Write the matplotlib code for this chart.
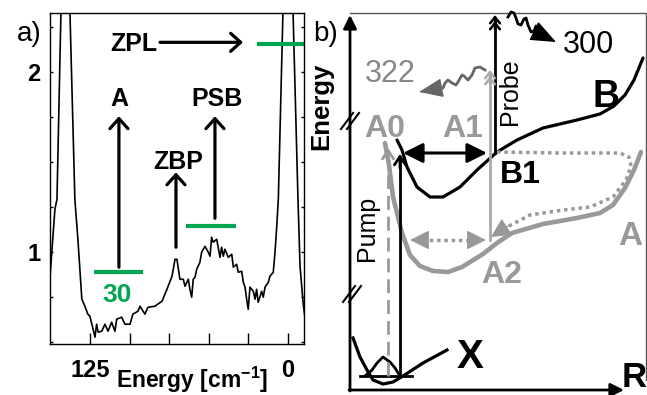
import matplotlib
matplotlib.use("Agg")
import matplotlib.pyplot as plt

plt.rcParams['font.family'] = ['Liberation Sans', 'DejaVu Sans']
plt.rcParams['mathtext.fontset'] = 'custom'
plt.rcParams['mathtext.bf'] = 'Liberation Sans:bold'
plt.rcParams['mathtext.rm'] = 'Liberation Sans'

# ---- panel a: spectrum (energy in cm^-1, intensity arb.) ----
energy = [151.5, 150.2, 147.1, 145.8, 143.3, 140.8, 137.6, 134.5, 132.6, 130.1,
          128.2, 126.3, 125.0, 121.8, 120.8, 119.8, 117.6, 115.5, 113.6, 111.3,
          109.2, 108.1, 105.0, 102.9, 99.7, 97.9, 94.7, 93.4, 90.3, 88.4,
          84.0, 79.5, 76.4, 73.2, 71.3, 70.1, 68.2, 66.1, 65.0, 62.9,
          61.9, 60.8, 59.8, 58.7, 57.6, 55.6, 54.5, 52.4, 50.3, 49.2,
          48.2, 47.2, 45.0, 42.9, 41.9, 40.8, 39.8, 37.7, 35.5, 34.5,
          32.4, 31.4, 29.2, 28.2, 27.1, 26.1, 25.1, 24.0, 21.9, 20.8,
          19.8, 18.8, 16.6, 15.6, 14.5, 12.4, 11.4, 10.3, 9.3, 8.2,
          7.1, 6.1, 3.2, 0.0, -3.2, -6.3, -7.6, -9.5, -10.5]
intensity = [0.78, 0.861, 1.239, 1.294, 2.33, 3.4, 2.33, 1.294, 1.072, 0.739,
             0.70, 0.656, 0.644, 0.528, 0.60, 0.556, 0.561, 0.60, 0.561, 0.611,
             0.561, 0.628, 0.639, 0.60, 0.60, 0.656, 0.672, 0.70, 0.656, 0.694,
             0.70, 0.728, 0.794, 0.867, 0.961, 0.961, 0.85, 0.85, 0.811, 0.85,
             0.794, 0.75, 0.85, 0.861, 0.906, 0.944, 1.0, 1.033, 1.0, 0.978,
             1.083, 1.056, 1.072, 0.972, 1.028, 0.978, 1.017, 0.972, 0.989, 0.917,
             0.933, 0.889, 0.894, 0.833, 0.806, 0.739, 0.683, 0.806, 0.783, 0.739,
             0.794, 0.722, 0.783, 0.75, 0.806, 0.833, 0.867, 0.878, 0.889, 1.0,
             1.144, 1.294, 2.33, 3.4, 2.33, 1.294, 0.922, 0.722, 0.65]

xticks = [125, 100, 75, 50, 25, 0]
xticklabels = ['125', '', '', '', '', '0']
yticks = [0.5, 0.75, 1.0, 1.25, 1.5, 1.75, 2.0, 2.25]
yticklabels = ['', '', '1', '', '', '', '2', '']

# label, text pos, arrow x, arrow from, arrow to
peak_labels = ['A', 'ZBP', 'PSB']
peak_text = [(106.7, 1.811), (69.4, 1.461), (44.8, 1.811)]
peak_arrow_x = [106.7, 70.7, 46.1]
peak_arrow_y0 = [0.917, 1.028, 1.189]
peak_arrow_y1 = [1.756, 1.444, 1.756]
# green level bars: (x0, x1, y)
green_bars = [(122.5, 91.5, 0.889), (64.4, 32.8, 1.144), (19.6, -10.5, 2.156)]

GREEN = '#00a651'
GRAY = '#999999'

fig = plt.figure(figsize=(6.47, 3.95), dpi=100)
W, H = 647.0, 395.0

ax = fig.add_axes([50 / W, 1 - 344 / H, 254 / W, 331 / H])
ax.plot(energy, intensity, color='k', lw=1.2)
ax.set_xlim(150.2, -10.1)
ax.set_ylim(0.49, 2.33)
ax.set_xticks(xticks)
ax.set_xticklabels(xticklabels, fontsize=17, fontweight='bold')
ax.set_yticks(yticks)
ax.set_yticklabels(yticklabels, fontsize=17, fontweight='bold')
ax.tick_params(axis='x', direction='in', length=8, width=1, pad=11)
ax.tick_params(axis='y', direction='in', length=2.5, width=1, pad=7, right=True)
for s in ax.spines.values():
    s.set_linewidth(1.0)

arrow_open = dict(arrowstyle='->,head_length=0.72,head_width=0.65', mutation_scale=10,
                  lw=2.3, color='k', shrinkA=0, shrinkB=0)
for lab, (tx, ty), axx, y0, y1 in zip(peak_labels, peak_text, peak_arrow_x,
                                        peak_arrow_y0, peak_arrow_y1):
    ax.text(tx, ty, lab, ha='center', va='baseline', fontsize=18, fontweight='bold')
    ax.annotate('', xy=(axx, y1), xytext=(axx, y0), arrowprops=arrow_open)
for x0, x1, y in green_bars:
    ax.plot([x0, x1], [y, y], color=GREEN, lw=3, solid_capstyle='butt', clip_on=False)
ax.text(108.0, 0.722, '30', color=GREEN, ha='center', va='baseline',
        fontsize=19, fontweight='bold')
ax.text(97.2, 2.117, 'ZPL', ha='center', va='baseline', fontsize=18, fontweight='bold')
ax.annotate('', xy=(28.4, 2.167), xytext=(80.8, 2.167), arrowprops=arrow_open)

fig.text(192 / W, 1 - 365 / H, r'Energy [cm$^{\mathbf{-1}}$]', ha='center', va='top',
         fontsize=16.5, fontweight='bold')
fig.text(29 / W, 1 - 41 / H, 'a)', ha='center', va='baseline', fontsize=20)
fig.text(326 / W, 1 - 41 / H, 'b)', ha='center', va='baseline', fontsize=20)

# ---- panel b: potential curve schematic (screen-like units, y down) ----
curve_B_r = [397, 402, 407, 417, 430, 443, 460, 477, 497, 517, 543, 577, 600, 614, 625, 634, 643]
curve_B_e = [140, 150, 167, 187, 197, 197, 187, 170, 152, 140, 128, 120, 114, 106, 95, 80, 58]
curve_A_r = [385, 389, 393, 402, 410, 420, 433, 448, 462, 483, 497, 512, 543, 577, 600, 613, 625, 634, 641]
curve_A_e = [143, 165, 197, 233, 255, 266, 271, 272, 267, 254, 243, 233, 224, 218, 213, 205, 188, 170, 152]
curve_X_r = [353, 360, 367, 373, 383, 393, 403, 423, 447]
curve_X_e = [338, 357, 370, 380, 384, 382, 376, 363, 350]
packet_r = [365, 372, 377, 383, 390, 395, 400]
packet_e = [376, 370, 363, 357, 362, 368, 376]
loop_r = [497, 560, 620, 629, 631, 626, 613, 590, 563, 530, 507]
loop_e = [152, 153, 153, 157, 166, 180, 197, 207, 210, 215, 227]
wave_probe_r = [508, 511, 514, 516, 518, 521, 524, 526, 528, 531, 534, 536, 538]
wave_probe_e = [17, 12, 13, 18, 24, 25, 19, 18, 25, 32, 31, 26, 32]
wave_gray_r = [485, 480, 475, 472, 468, 464, 462, 458, 456, 452, 448, 445, 443, 438]
wave_gray_e = [70, 67, 68, 75, 80, 76, 75, 82, 85, 83, 80, 83, 88, 89]

bx = fig.add_axes([310 / W, 0, 337 / W, 1])
bx.set_xlim(310, 647)
bx.set_ylim(395, 0)
bx.axis('off')

# frame
bx.plot([350, 646, 646], [13, 13, 380], color='#555555', lw=1)
# axes arrows
filled = dict(arrowstyle='-|>', mutation_scale=20, lw=2, color='k', shrinkA=0, shrinkB=0)
bx.annotate('', xy=(350, 15), xytext=(350, 391), arrowprops=filled)
bx.annotate('', xy=(624, 390), xytext=(349, 390), arrowprops=filled)
for cx, cy in [(350, 121), (352, 294)]:
    for d in (-3, 3):
        bx.plot([cx + d - 6, cx + d + 6], [cy + 8, cy - 8], color='k', lw=1.5)

bx.plot(curve_B_r, curve_B_e, color='k', lw=2.3, solid_capstyle='round')
bx.plot(curve_A_r, curve_A_e, color=GRAY, lw=3.3, solid_capstyle='round')
bx.plot(curve_X_r, curve_X_e, color='k', lw=2.3)
bx.plot(packet_r, packet_e, color='k', lw=2)
bx.plot([360, 412], [376, 376], color='k', lw=2)

# pump
bx.plot([388, 388], [376, 156], color=GRAY, lw=2, dashes=(5, 2.5))
chev = dict(arrowstyle='->,head_length=0.6,head_width=0.4', mutation_scale=10,
            shrinkA=0, shrinkB=0)
bx.annotate('', xy=(388, 148), xytext=(388, 162), arrowprops=dict(chev, lw=2, color=GRAY))
bx.plot([400, 400], [376, 158], color='k', lw=2)
bx.annotate('', xy=(400, 154), xytext=(400, 168), arrowprops=dict(chev, lw=2, color='k'))
bx.text(367, 228, 'Pump', rotation=90, ha='center', va='center', fontsize=18)

# probe
bx.plot([495, 495], [153, 20], color='k', lw=2)
chev2 = dict(arrowstyle='->,head_length=0.45,head_width=0.35', mutation_scale=10,
             shrinkA=0, shrinkB=0, lw=1.8)
for tip in (15, 21):
    bx.annotate('', xy=(495, tip), xytext=(495, tip + 8), arrowprops=dict(chev2, color='k'))
bx.text(510, 92, 'Probe', rotation=90, ha='center', va='center', fontsize=18)
bx.plot([490, 490], [240, 75], color='#aaaaaa', lw=2)
for tip in (70, 76):
    bx.annotate('', xy=(490, tip), xytext=(490, tip + 8),
                arrowprops=dict(chev2, color='#aaaaaa'))

# emission squiggles
bx.plot(wave_probe_r, wave_probe_e, color='k', lw=2, solid_joinstyle='round')
bx.annotate('', xy=(556, 42), xytext=(536, 32),
            arrowprops=dict(arrowstyle='-|>,head_length=1.6,head_width=0.65', mutation_scale=10,
                            lw=1, color='k', shrinkA=0, shrinkB=0))
bx.plot(wave_gray_r, wave_gray_e, color='#666666', lw=2, solid_joinstyle='round')
bx.annotate('', xy=(419, 92), xytext=(441, 88),
            arrowprops=dict(arrowstyle='-|>,head_length=1.5,head_width=0.6', mutation_scale=10,
                            lw=1, color='#666666', shrinkA=0, shrinkB=0))

# vibrational double arrows
bx.annotate('', xy=(487, 153), xytext=(403, 153),
            arrowprops=dict(arrowstyle='<|-|>,head_length=0.6,head_width=0.3', mutation_scale=20,
                            lw=2.2, color='k', shrinkA=0, shrinkB=0))
bx.plot([422, 473], [240, 240], color=GRAY, lw=2.5, linestyle=(0, (1, 1.1)))
gray_head = dict(arrowstyle='-|>,head_length=0.6,head_width=0.3', mutation_scale=20,
                 lw=1, color=GRAY, shrinkA=0, shrinkB=0)
bx.annotate('', xy=(410, 240), xytext=(424, 240), arrowprops=gray_head)
bx.annotate('', xy=(486, 240), xytext=(472, 240), arrowprops=gray_head)
bx.plot(loop_r, loop_e, color=GRAY, lw=2.5, linestyle=(0, (1, 1.1)))
bx.annotate('', xy=(491, 237), xytext=(508, 226), arrowprops=gray_head)

# labels
bx.text(385, 137, 'A0', color=GRAY, ha='center', va='baseline', fontsize=23, fontweight='bold')
bx.text(463, 137, 'A1', color=GRAY, ha='center', va='baseline', fontsize=23, fontweight='bold')
bx.text(502, 283, 'A2', color=GRAY, ha='center', va='baseline', fontsize=23, fontweight='bold')
bx.text(630, 245, 'A', color=GRAY, ha='center', va='baseline', fontsize=24, fontweight='bold')
bx.text(606, 107, 'B', ha='center', va='baseline', fontsize=27, fontweight='bold')
bx.text(520, 183, 'B1', ha='center', va='baseline', fontsize=23, fontweight='bold')
bx.text(470, 368, 'X', ha='center', va='baseline', fontsize=29, fontweight='bold')
bx.text(634, 387, 'R', ha='center', va='baseline', fontsize=25, fontweight='bold')
bx.text(588, 53, '300', ha='center', va='baseline', fontsize=22)
bx.text(390, 82, '322', color='#888888', ha='center', va='baseline', fontsize=22)
bx.text(321, 106, 'Energy', rotation=90, ha='center', va='center', fontsize=18.5, fontweight='bold')

fig.savefig('out.png', dpi=100)
